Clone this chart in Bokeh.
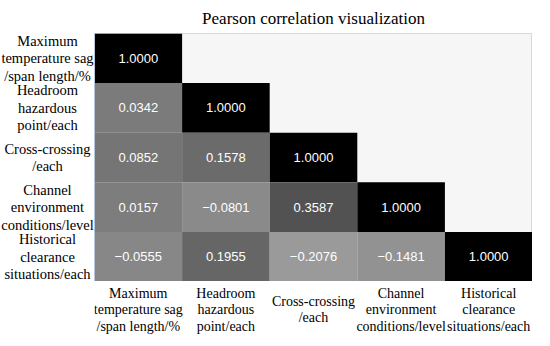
from bokeh.plotting import figure
from bokeh.layouts import row, column
from bokeh.models import (ColumnDataSource, LinearColorMapper, FactorRange,
                          CustomJSTickFormatter, Spacer)
from bokeh.transform import transform
from bokeh.core.properties import value
from bokeh.embed import file_html
from bokeh.resources import INLINE

labels = [
    "Maximum\ntemperature sag\n/span length/%",
    "Headroom\nhazardous\npoint/each",
    "Cross-crossing\n/each",
    "Channel\nenvironment\nconditions/level",
    "Historical\nclearance\nsituations/each",
]
x_labels = [
    "Maximum\ntemperature sag\n/span length/%",
    "Headroom\nhazardous\npoint/each",
    "Cross-crossing\n/each",
    "Channel\nenvironment\nconditions/level",
    "Historical\nclearance\nsituations/each",
]

# lower-triangle correlation values, row by row
row1 = [1.0000]
row2 = [0.0342, 1.0000]
row3 = [0.0852, 0.1578, 1.0000]
row4 = [0.0157, -0.0801, 0.3587, 1.0000]
row5 = [-0.0555, 0.1955, -0.2076, -0.1481, 1.0000]
rows = [row1, row2, row3, row4, row5]

xs, ys, vals, txt = [], [], [], []
for i, r in enumerate(rows):
    for j, v in enumerate(r):
        xs.append(x_labels[j])
        ys.append(labels[i])
        vals.append(v)
        txt.append(f"{v:.4f}".replace("-", "\u2212"))

src = ColumnDataSource(dict(x=xs, y=ys, v=vals, t=txt))

palette = ["#%02x%02x%02x" % (255 - k, 255 - k, 255 - k) for k in range(256)]
mapper = LinearColorMapper(palette=palette, low=-1, high=1)

SERIF = "Liberation Serif"
FW, FH, TOP, LW, BH = 438, 248, 25, 94, 56


def bare_axis(ax, line_color):
    ax.major_tick_line_color = None
    ax.minor_tick_line_color = None
    ax.major_tick_out = 0
    ax.major_tick_in = 0
    ax.minor_tick_out = 0
    ax.minor_tick_in = 0
    ax.axis_label_standoff = 0
    ax.axis_line_color = line_color
    ax.major_label_standoff = 0
    ax.major_label_text_font_size = "1px"
    ax.formatter = CustomJSTickFormatter(code="return ''")


# main heatmap
p = figure(
    x_range=x_labels, y_range=list(reversed(labels)),
    frame_width=FW, frame_height=FH,
    output_backend="svg", toolbar_location=None,
    title="Pearson correlation visualization",
    min_border_left=0, min_border_right=0, min_border_top=TOP, min_border_bottom=0,
)
p.title.align = "center"
p.title.text_font = SERIF
p.title.text_font_size = "17px"
p.title.text_font_style = "normal"
p.title.text_color = "#000000"
p.title.standoff = 12
p.background_fill_color = "#f6f6f6"
p.border_fill_color = "white"
p.outline_line_color = "#d8d8d8"
p.grid.grid_line_color = None
bare_axis(p.xaxis[0], "#b8c6da")
bare_axis(p.yaxis[0], "#b8c6da")

p.rect(x="x", y="y", width=1, height=1, source=src,
       fill_color=transform("v", mapper), line_color=None)
p.text(x="x", y="y", text="t", source=src, text_color="white",
       text_align="center", text_baseline="middle",
       text_font=value("Liberation Sans"), text_font_size="13px")

# row labels on the left, sharing the y range
lab_src = ColumnDataSource(dict(c=["lab"] * len(labels), y=labels))
left = figure(
    x_range=FactorRange("lab"), y_range=p.y_range,
    frame_width=LW, frame_height=FH,
    output_backend="svg", toolbar_location=None,
    title=" ",
    x_axis_location=None, y_axis_location=None,
    min_border_left=0, min_border_right=0, min_border_top=TOP, min_border_bottom=0,
)
left.title.text_font = SERIF
left.title.text_font_size = "17px"
left.title.standoff = 12
left.outline_line_color = None
left.grid.grid_line_color = None
left.text(x="c", y="y", text="y", source=lab_src, text_color="black",
          text_align="center", text_baseline="middle",
          text_font=value(SERIF), text_font_size="14.5px", text_line_height=1.1)

# column labels below, sharing the x range
col_src = ColumnDataSource(dict(x=x_labels, c=["lab"] * len(x_labels)))
bottom = figure(
    x_range=p.x_range, y_range=FactorRange("lab"),
    frame_width=FW, frame_height=BH,
    output_backend="svg", toolbar_location=None,
    x_axis_location=None,
    min_border_left=0, min_border_right=0, min_border_top=0, min_border_bottom=0,
)
bottom.outline_line_color = None
bottom.grid.grid_line_color = None
bare_axis(bottom.yaxis[0], None)
bottom.text(x="x", y="c", text="x", source=col_src, text_color="black",
            text_align="center", text_baseline="middle",
            text_font=value(SERIF), text_font_size="14px", text_line_height=1.1)

layout = column(row(left, p), row(Spacer(width=LW, height=BH), bottom))
open("out.html", "w").write(file_html(layout, INLINE))
